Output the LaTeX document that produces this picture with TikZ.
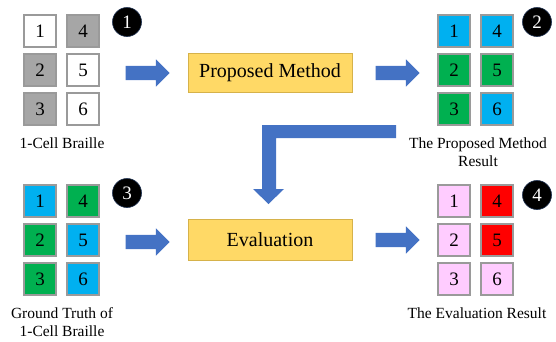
\documentclass[tikz,border=0pt]{standalone}
\usepackage{fontspec}
\setmainfont{Liberation Serif}
\usetikzlibrary{shapes.arrows}

\definecolor{cellblue}{HTML}{00B0F0}
\definecolor{cellgreen}{HTML}{00B050}
\definecolor{cellgray}{HTML}{A6A6A6}
\definecolor{cellpink}{HTML}{FFCCFF}
\definecolor{cellred}{HTML}{FF0000}
\definecolor{cellline}{HTML}{9A9A9A}
\definecolor{boxfill}{HTML}{FFD966}
\definecolor{boxline}{HTML}{D6B24A}
\definecolor{arrowblue}{HTML}{4472C4}

\tikzset{
  cell/.style={draw=cellline, line width=1.1pt, minimum size=32pt, inner sep=0pt,
    font=\fontsize{19}{19}\selectfont},
  procbox/.style={draw=boxline, fill=boxfill, line width=1pt, minimum width=164pt,
    inner sep=0pt, font=\fontsize{20}{20}\selectfont},
  badge/.style={circle, fill=black, draw=arrowblue!40!black, line width=0.6pt,
    minimum size=29pt, inner sep=0pt, text=white, font=\fontsize{19}{19}\selectfont},
  caption/.style={font=\fontsize{15.5}{18}\selectfont, align=center, inner sep=0pt},
  blockarrow/.style={single arrow, fill=arrowblue, draw=none, inner xsep=0pt,
    inner ysep=7pt, minimum height=44pt, single arrow head extend=6.5pt,
    single arrow tip angle=90}
}

\begin{document}
\begin{tikzpicture}[x=1pt, y=-1pt]
\useasboundingbox (0,0) rectangle (556,341);

% Braille cell grids: \cellgrid{name}{x-left col}{y-top row}{colors 1..6}
\newcommand\cellgrid[9]{%
  \node[cell, fill=#4] (#1c1) at (#2, #3) {1};
  \node[cell, fill=#5] (#1c2) at (#2, #3+39) {2};
  \node[cell, fill=#6] (#1c3) at (#2, #3+78) {3};
  \node[cell, fill=#7] (#1c4) at (#2+43, #3) {4};
  \node[cell, fill=#8] (#1c5) at (#2+43, #3+39) {5};
  \node[cell, fill=#9] (#1c6) at (#2+43, #3+78) {6};
}

\cellgrid{g1}{40}{31}{white}{cellgray}{cellgray}{cellgray}{white}{white}
\cellgrid{g2}{454}{31}{cellblue}{cellgreen}{cellgreen}{cellblue}{cellgreen}{cellblue}
\cellgrid{g3}{40}{201}{cellblue}{cellgreen}{cellgreen}{cellgreen}{cellblue}{cellblue}
\cellgrid{g4}{454}{201}{cellpink}{cellpink}{cellpink}{cellred}{cellred}{cellpink}

% step badges
\node[badge] (b1) at (127,22) {1};
\node[badge] (b2) at (537,22) {2};
\node[badge] (b3) at (127,193) {3};
\node[badge] (b4) at (537,195) {4};

% captions
\node[caption] (t1) at (62,143) {1-Cell Braille};
\node[caption] (t2) at (478,152) {The Proposed Method\\Result};
\node[caption] (t3) at (62,322) {Ground Truth of\\1-Cell Braille};
\node[caption] (t4) at (477,313) {The Evaluation Result};

% process boxes
\node[procbox, minimum height=39pt] (pm) at (270,72.5) {Proposed Method};
\node[procbox, minimum height=41pt] (ev) at (270,240) {Evaluation};

% straight block arrows
\node[blockarrow] (a1) at (144,73) {};
\node[blockarrow] (a2) at (394,73) {};
\node[blockarrow] (a3) at (144,242) {};
\node[blockarrow] (a4) at (394,240) {};

% bent arrow from the method result down to the evaluation
\fill[arrowblue] (396,125) -- (262,125) -- (262,189) -- (253,189) -- (268.5,204)
  -- (284,189) -- (276,189) -- (276,138) -- (396,138) -- cycle;
\end{tikzpicture}
\end{document}
